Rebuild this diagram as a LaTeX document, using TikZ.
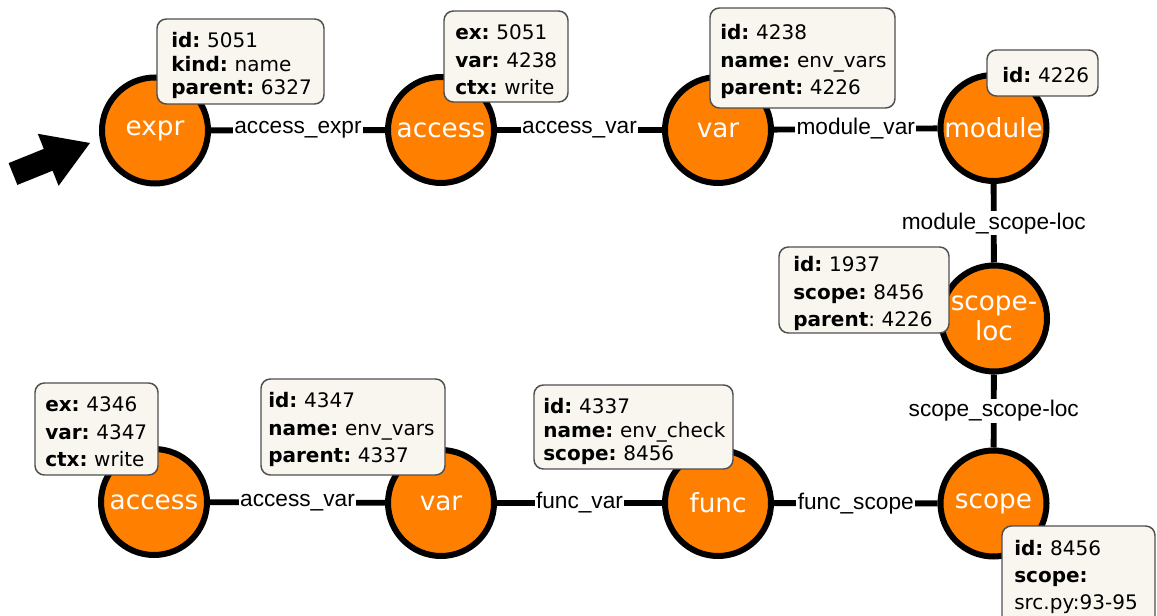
\documentclass[tikz,border=0pt]{standalone}
\usepackage{fontspec}
\setmainfont{Liberation Sans}
\newfontfamily\dejavu{DejaVu Sans}
\usetikzlibrary{fit}
\frenchspacing
\definecolor{nodeorange}{HTML}{FF8000}
\definecolor{boxfill}{HTML}{F8F6EE}
\definecolor{boxline}{HTML}{505050}
\tikzset{
 ent/.style={circle, draw=black, line width=4.5pt, fill=nodeorange, minimum size=79.5pt, inner sep=0pt, text=white, font=\dejavu\fontsize{19.7}{22.5}\selectfont, align=center},
 edge/.style={line width=4.4pt, black},
 elabel/.style={fill=white, inner sep=1pt, font=\fontsize{17}{20}\selectfont, text=black},
 infobox/.style={draw=boxline, line width=1.1pt, fill=boxfill, rounded corners=7pt, inner sep=0pt},
 boxtxt/.style={anchor=base west, inner sep=0pt, align=left, text width=150pt, font=\dejavu\fontsize{15}{17.6}\selectfont},
 boxtxtw/.style={boxtxt, font=\dejavu\fontsize{15}{20.6}\selectfont},
}
\begin{document}
\begin{tikzpicture}[x=0.75pt,y=-0.75pt]
\frenchspacing
\useasboundingbox (0,0) rectangle (1157,616);
% entity nodes
\node[ent] (expr) at (155,130.5) {expr};
\node[ent] (acc1) at (441,130) {access};
\node[ent] (var1) at (718,130) {var};
\node[ent] (module) at (993.5,128) {module};
\node[ent] (scopeloc) at (994,318.5) {scope-\\loc};
\node[ent] (scope) at (993.5,503.5) {scope};
\node[ent] (func) at (718,503) {func};
\node[ent] (var2) at (441,503) {var};
\node[ent] (acc2) at (154,502) {access};
% edges
\draw[edge] (expr) -- node[elabel] (l1) {access\_expr} (acc1);
\draw[edge] (acc1) -- node[elabel] (l2) {access\_var} (var1);
\draw[edge] (var1) -- node[elabel] (l3) {module\_var} (module);
\draw[edge] (module) -- node[elabel] (l4) {module\_scope-loc} (scopeloc);
\draw[edge] (scopeloc) -- node[elabel] (l5) {scope\_scope-loc} (scope);
\draw[edge] (acc2) -- node[elabel] (l6) {access\_var} (var2);
\draw[edge] (var2) -- node[elabel] (l7) {func\_var} (func);
\draw[edge] (func) -- node[elabel] (l8) {func\_scope} (scope);
% pointer arrow
\fill[black] (8.6,163.1) -- (43.8,148.9) -- (37.8,133.8) -- (90,143) -- (58.6,185.8) -- (52.6,170.7) -- (17.4,184.9) -- cycle;
% info boxes
\node[infobox, fit={(157,19) (324,104)}] (b1) {};
\node[boxtxt] (t1) at (171,48) {\textbf{id:} 5051\\\textbf{kind:} name\\\textbf{parent:} 6327};
\node[infobox, fit={(444,11) (568,102)}] (b2) {};
\node[boxtxtw] (t2) at (455,40) {\textbf{ex:} 5051\\\textbf{var:} 4238\\\textbf{ctx:} write};
\node[infobox, fit={(710,8) (895,108)}] (b3) {};
\node[boxtxtw] (t3) at (720,40) {\textbf{id:} 4238\\\textbf{name:} env\_vars\\\textbf{parent:} 4226};
\node[infobox, fit={(987,50) (1098,96)}] (b4) {};
\node[boxtxt] (t4) at (1002,83) {\textbf{id:} 4226};
\node[infobox, fit={(779,247) (949,333)}] (b5) {};
\node[boxtxtw] (t5) at (793,272) {\textbf{id:} 1937\\\textbf{scope:} 8456\\\textbf{parent}: 4226};
\node[infobox, fit={(35,383) (158,475)}] (b6) {};
\node[boxtxtw] (t6) at (45,412) {\textbf{ex:} 4346\\\textbf{var:} 4347\\\textbf{ctx:} write};
\node[infobox, fit={(261,379) (445,475)}] (b7) {};
\node[boxtxtw] (t7) at (268,408) {\textbf{id:} 4347\\\textbf{name:} env\_vars\\\textbf{parent:} 4337};
\node[infobox, fit={(534,385) (733,469)}] (b8) {};
\node[boxtxt] (t8) at (543,414) {\textbf{id:} 4337\\\textbf{name:} env\_check\\\textbf{scope:} 8456};
\node[infobox, fit={(1002,526) (1155,645)}] (b9) {};
\node[boxtxtw] (t9) at (1014,555) {\textbf{id:} 8456\\\textbf{scope:}\\src.py:93-95};
\end{tikzpicture}
\end{document}
